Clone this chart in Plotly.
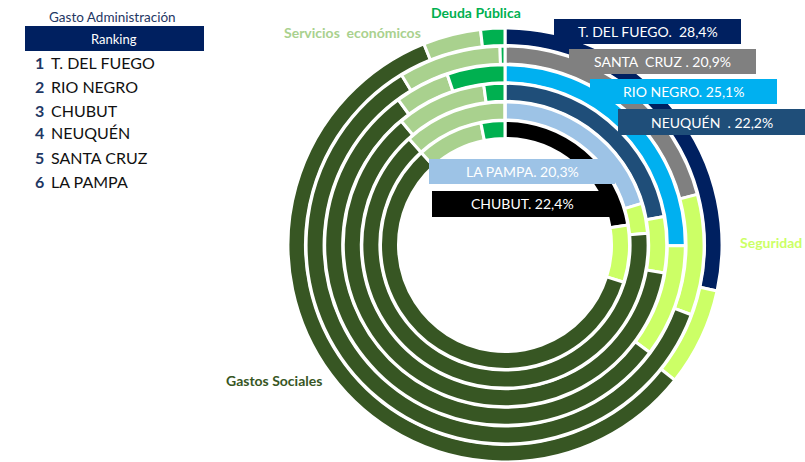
import plotly.graph_objects as go

# ---------------- data ----------------
provinces = ["T. DEL FUEGO", "SANTA CRUZ", "RIO NEGRO", "NEUQUÉN", "LA PAMPA", "CHUBUT"]  # outer -> inner ring
categories = ["Administración", "Seguridad", "Gastos Sociales", "Servicios económicos", "Deuda Pública"]
administracion = [28.4, 20.9, 25.1, 22.2, 20.3, 22.4]
seguridad = [7.3, 9.8, 10.1, 5.6, 3.4, 7.4]
gastos_sociales = [58.2, 60.6, 54.8, 61.2, 64.6, 58.4]
servicios_economicos = [4.3, 8.3, 4.9, 9.0, 11.7, 8.6]
deuda_publica = [1.8, 0.4, 5.2, 2.1, 0.0, 3.1]
ring_labels = ["T. DEL FUEGO.\u00a0 28,4%", "SANTA\u00a0 CRUZ . 20,9%", "RIO NEGRO. 25,1%",
               "NEUQUÉN\u00a0 . 22,2%", "LA PAMPA. 20,3%", "CHUBUT. 22,4%"]
ranking = ["T. DEL FUEGO", "RIO NEGRO", "CHUBUT", "NEUQUÉN", "SANTA CRUZ", "LA PAMPA"]

# ---------------- styles ----------------
W, H = 805, 462
prov_colors = ["#002060", "#808080", "#00B0F0", "#1F4E79", "#9DC3E6", "#000000"]
cat_colors = {"Seguridad": "#CCFF66", "Gastos Sociales": "#375623",
              "Servicios económicos": "#A9D18E", "Deuda Pública": "#00B050"}
FONT = "Lato, 'Open Sans', sans-serif"

def px(x):
    return x / W

def py(y):
    return 1 - y / H

cx, cy = 505, 245
r_outer_vis = 216.0
pitch = 18.6
thick = 15.0
lw = 3.0

fig = go.Figure()
for i, prov in enumerate(provinces):
    rv = r_outer_vis - pitch * i
    R = min(rv + lw / 2, 217.0)
    inner = rv - thick - lw / 2
    vals = [administracion[i], seguridad[i], gastos_sociales[i],
            servicios_economicos[i], deuda_publica[i]]
    cols = [prov_colors[i], cat_colors["Seguridad"], cat_colors["Gastos Sociales"],
            cat_colors["Servicios económicos"], cat_colors["Deuda Pública"]]
    fig.add_trace(go.Pie(
        values=vals, labels=categories, name=prov,
        sort=False, direction="clockwise", rotation=0,
        hole=inner / R,
        marker=dict(colors=cols, line=dict(color="white", width=lw)),
        textinfo="none", hoverinfo="label+percent+name",
        showlegend=False,
        domain=dict(x=[px(cx - R), px(cx + R)], y=[py(cy + R), py(cy - R)]),
    ))

shapes = []
annotations = []

# ring label boxes
boxes = [(554, 19, 741, 44), (569, 49, 756, 74), (590, 79, 777, 104),
         (618, 109, 805, 135), (429, 159, 615, 184), (432, 191, 613, 217)]
for i, (x0, y0, x1, y1) in enumerate(boxes):
    shapes.append(dict(type="rect", xref="paper", yref="paper",
                       x0=px(x0), x1=px(x1), y0=py(y1), y1=py(y0),
                       fillcolor=prov_colors[i], line=dict(width=0), layer="above"))
    annotations.append(dict(xref="paper", yref="paper", x=px((x0 + x1) / 2), y=py((y0 + y1) / 2),
                            text=ring_labels[i], showarrow=False, xanchor="center", yanchor="middle",
                            font=dict(family=FONT, size=14, color="white")))

# category labels
cat_pos = {"Deuda Pública": (476, 13), "Servicios económicos": (352, 33),
           "Seguridad": (771, 242), "Gastos Sociales": (274, 380)}
cat_text = {"Deuda Pública": "Deuda Pública", "Servicios económicos": "Servicios\u00a0 económicos",
            "Seguridad": "Seguridad", "Gastos Sociales": "Gastos Sociales"}
for c, (x, y) in cat_pos.items():
    annotations.append(dict(xref="paper", yref="paper", x=px(x), y=py(y), text="<b>" + cat_text[c] + "</b>",
                            showarrow=False, xanchor="center", yanchor="middle",
                            font=dict(family=FONT, size=14, color=cat_colors[c])))

# left ranking panel
annotations.append(dict(xref="paper", yref="paper", x=px(112), y=py(17), text="Gasto Administración",
                        showarrow=False, xanchor="center", yanchor="middle",
                        font=dict(family=FONT, size=13.5, color="#1F3864")))
shapes.append(dict(type="rect", xref="paper", yref="paper", x0=px(25), x1=px(204), y0=py(51), y1=py(26),
                   fillcolor="#002060", line=dict(width=0), layer="above"))
annotations.append(dict(xref="paper", yref="paper", x=px(114), y=py(38.5), text="Ranking",
                        showarrow=False, xanchor="center", yanchor="middle",
                        font=dict(family=FONT, size=13, color="white")))
row_y = [62, 86, 110, 133, 157, 181]
for k, name in enumerate(ranking):
    annotations.append(dict(xref="paper", yref="paper", x=px(39), y=py(row_y[k]), text="<b>%d</b>" % (k + 1),
                            showarrow=False, xanchor="center", yanchor="middle",
                            font=dict(family=FONT, size=16, color="#1F3864")))
    annotations.append(dict(xref="paper", yref="paper", x=px(49), y=py(row_y[k]), text=name,
                            showarrow=False, xanchor="left", yanchor="middle",
                            font=dict(family=FONT, size=16, color="#111111")))

fig.update_layout(width=W, height=H, margin=dict(l=0, r=0, t=0, b=0),
                  paper_bgcolor="white", plot_bgcolor="white",
                  shapes=shapes, annotations=annotations)
fig.write_html("out.html", config={"displayModeBar": False},
               post_script="document.body.style.margin='0';document.body.style.padding='0';"
                           "document.body.style.overflow='hidden';")
